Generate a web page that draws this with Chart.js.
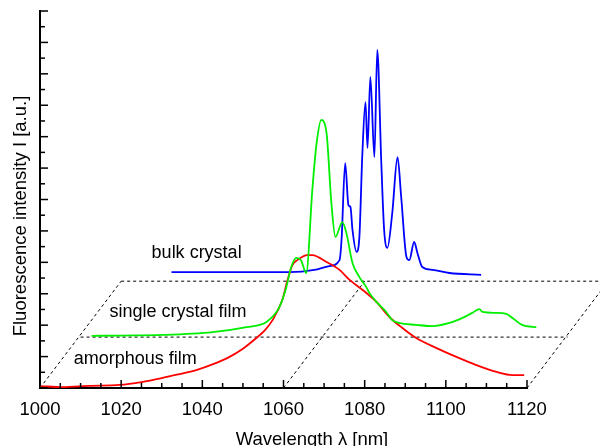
<!DOCTYPE html>
<html>
<head>
<meta charset="utf-8">
<script src="https://cdn.jsdelivr.net/npm/chart.js@4/dist/chart.umd.min.js"></script>
<style>
    html, body { margin: 0; padding: 0; background: #fff; }
</style>
</head>
<body>
<canvas id="chart" width="600" height="446"></canvas>
<script>
// Spectra: wavelength [nm] and intensity [a.u.]
const amorphousX = [1000, 1005.5, 1012, 1019.6, 1025, 1030.2, 1034, 1038.5, 1042.5, 1046.7, 1050, 1053.3, 1055.5, 1057.3, 1059.7, 1061, 1062.2, 1063.4, 1065.9, 1067.1, 1070.6, 1073.8, 1076.3, 1079.5, 1082.9, 1086.1, 1089.3, 1092.7, 1097.7, 1102.6, 1107.5, 1112.5, 1116.4, 1119.3];
const amorphousY = [0.06, 0.03, 0.07, 0.1, 0.19, 0.32, 0.43, 0.57, 0.75, 0.99, 1.25, 1.59, 1.85, 2.16, 2.8, 3.44, 3.91, 4.07, 4.23, 4.23, 4.01, 3.76, 3.44, 3.12, 2.74, 2.26, 1.91, 1.59, 1.27, 0.99, 0.73, 0.51, 0.41, 0.41];

const singleX = [1002.7, 1010, 1020.2, 1032.5, 1040.9, 1045.8, 1049, 1050.7, 1051.9, 1053.2, 1054.3, 1055.6, 1057.1, 1058.1, 1059.3, 1060.6, 1061.8, 1062.8, 1064.5, 1065.5, 1067, 1068.7, 1070.4, 1071.2, 1072.9, 1075.3, 1076.8, 1078.5, 1082.7, 1086.7, 1090.9, 1094.1, 1096.5, 1098.3, 1099, 1102.4, 1104.9, 1106.4, 1108.8, 1112.3, 1116.7];
const singleY = [0.04, 0.05, 0.07, 0.16, 0.32, 0.48, 0.96, 1.59, 2.23, 2.52, 2.45, 2.04, 4.68, 6.11, 6.91, 6.5, 4.27, 3.19, 3.66, 3.31, 2.36, 1.91, 1.59, 1.4, 1.12, 0.8, 0.54, 0.45, 0.39, 0.35, 0.45, 0.61, 0.77, 0.89, 0.8, 0.77, 0.74, 0.61, 0.39, 0.32, 0.29];

const bulkX = [1012.4, 1031.6, 1041.5, 1047.6, 1051.3, 1053.8, 1054.3, 1055.2, 1056, 1056.5, 1057, 1058, 1058.7, 1059.4, 1060.2, 1060.7, 1061.4, 1062.4, 1063.1, 1064.1, 1064.8, 1065.6, 1066.8, 1068.1, 1069, 1070.3, 1071, 1072.2, 1073, 1074.2, 1076.7, 1080.9, 1088.7];
const bulkY = [0.29, 0.29, 0.29, 0.36, 0.48, 0.67, 1.31, 3.76, 2.42, 2.36, 1.63, 0.93, 1.41, 3.95, 5.7, 4.24, 6.5, 3.95, 7.36, 3.76, 1.63, 1.06, 2.17, 3.95, 2.68, 0.77, 0.67, 1.25, 0.9, 0.45, 0.36, 0.26, 0.2];

const seriesNames = ['amorphous film', 'single crystal film', 'bulk crystal'];
const seriesColors = ['#ff0000', '#00ee00', '#0000ff'];
// waterfall depth shift of each series: [nm, a.u.]
const depthShiftX = [0, 10, 20];
const depthShiftY = [0, 1.62, 3.4];

const xTicks = [1000, 1020, 1040, 1060, 1080, 1100, 1120];
const xMin = 1000, xMax = 1120, yMin = 0, yMax = 12;

const FONT = "'Liberation Sans', Arial, sans-serif";

function shifted(xs, ys, i) {
    return xs.map((v, k) => ({ x: v + depthShiftX[i], y: ys[k] + depthShiftY[i] }));
}

const curves = [
    shifted(amorphousX, amorphousY, 0),
    shifted(singleX, singleY, 1),
    shifted(bulkX, bulkY, 2),
];

function dashed(points) {
    return {
        data: points,
        borderColor: '#000',
        borderWidth: 1,
        borderDash: [3, 3],
        pointRadius: 0,
        fill: false,
        clip: false,
        tension: 0,
    };
}

// base planes of the waterfall
const back = depthShiftX[2], backY = depthShiftY[2];
const mid = depthShiftX[1], midY = depthShiftY[1];
const planeLines = [
    [{ x: xMin + back, y: backY }, { x: xMax + back, y: backY }],
    [{ x: xMin + mid, y: midY }, { x: xMax + mid, y: midY }],
    [{ x: xMin, y: 0 }, { x: xMin + back, y: backY }],
    [{ x: 1060, y: 0 }, { x: 1060 + back, y: backY }],
    [{ x: xMax, y: 0 }, { x: xMax + back, y: backY }],
];

const datasets = [];
[1, 0, 2].forEach(i => {
    datasets.push({
        label: seriesNames[i],
        data: curves[i],
        borderColor: seriesColors[i],
        borderWidth: 1.8,
        pointRadius: 0,
        fill: false,
        clip: false,
        cubicInterpolationMode: 'monotone',
    });
});
planeLines.forEach(p => datasets.push(dashed(p)));

// text labels placed in data units
const labelPos = [
    { x: 1008.3, y: 0.76 },
    { x: 1017.1, y: 2.26 },
    { x: 1027.5, y: 4.14 },
];

const decor = {
    id: 'decor',
    afterDraw(chart) {
        const { ctx, chartArea, scales: { x, y } } = chart;
        ctx.save();
        ctx.strokeStyle = '#000';
        ctx.lineWidth = 1.5;
        // inward ticks
        for (let v = xMin; v <= xMax; v += 5) {
            const px = x.getPixelForValue(v);
            const len = v % 20 === 0 ? 8 : 5;
            ctx.beginPath();
            ctx.moveTo(px, chartArea.bottom);
            ctx.lineTo(px, chartArea.bottom - len);
            ctx.stroke();
        }
        for (let v = yMin; v <= yMax; v += 0.5) {
            const py = y.getPixelForValue(v);
            const len = v % 1 === 0 ? 8 : 5;
            ctx.beginPath();
            ctx.moveTo(chartArea.left, py);
            ctx.lineTo(chartArea.left + len, py);
            ctx.stroke();
        }

        ctx.fillStyle = '#000';
        ctx.font = '18px ' + FONT;
        ctx.textBaseline = 'alphabetic';
        ctx.textAlign = 'left';
        labelPos.forEach((p, i) => {
            ctx.fillText(seriesNames[i], x.getPixelForValue(p.x), y.getPixelForValue(p.y));
        });

        // axis titles
        ctx.font = '18.5px ' + FONT;
        ctx.textAlign = 'center';
        ctx.fillText('Wavelength \u03bb [nm]', 312, 445);
        ctx.save();
        ctx.translate(26, 216);
        ctx.rotate(-Math.PI / 2);
        ctx.fillText('Fluorescence intensity I [a.u.]', 0, 0);
        ctx.restore();
        ctx.restore();
    }
};

new Chart(document.getElementById('chart'), {
    type: 'line',
    data: { datasets },
    options: {
        responsive: false,
        animation: false,
        layout: { padding: { top: 11, right: 73, left: 0, bottom: 0 } },
        plugins: { legend: { display: false }, tooltip: { enabled: false } },
        scales: {
            x: {
                type: 'linear',
                min: xMin,
                max: xMax,
                afterFit: s => { s.height = 58; },
                afterBuildTicks: s => { s.ticks = xTicks.map(v => ({ value: v })); },
                grid: { display: false, drawTicks: false },
                border: { display: true, color: '#000', width: 2 },
                ticks: {
                    autoSkip: false,
                    maxRotation: 0,
                    padding: 11,
                    color: '#000',
                    font: { family: FONT, size: 18.5 },
                    callback: v => String(v),
                },
            },
            y: {
                type: 'linear',
                min: yMin,
                max: yMax,
                afterFit: s => { s.width = 40; },
                grid: { display: false, drawTicks: false },
                border: { display: true, color: '#000', width: 2 },
                ticks: { display: false },
            },
        },
    },
    plugins: [decor],
});
</script>
</body>
</html>
